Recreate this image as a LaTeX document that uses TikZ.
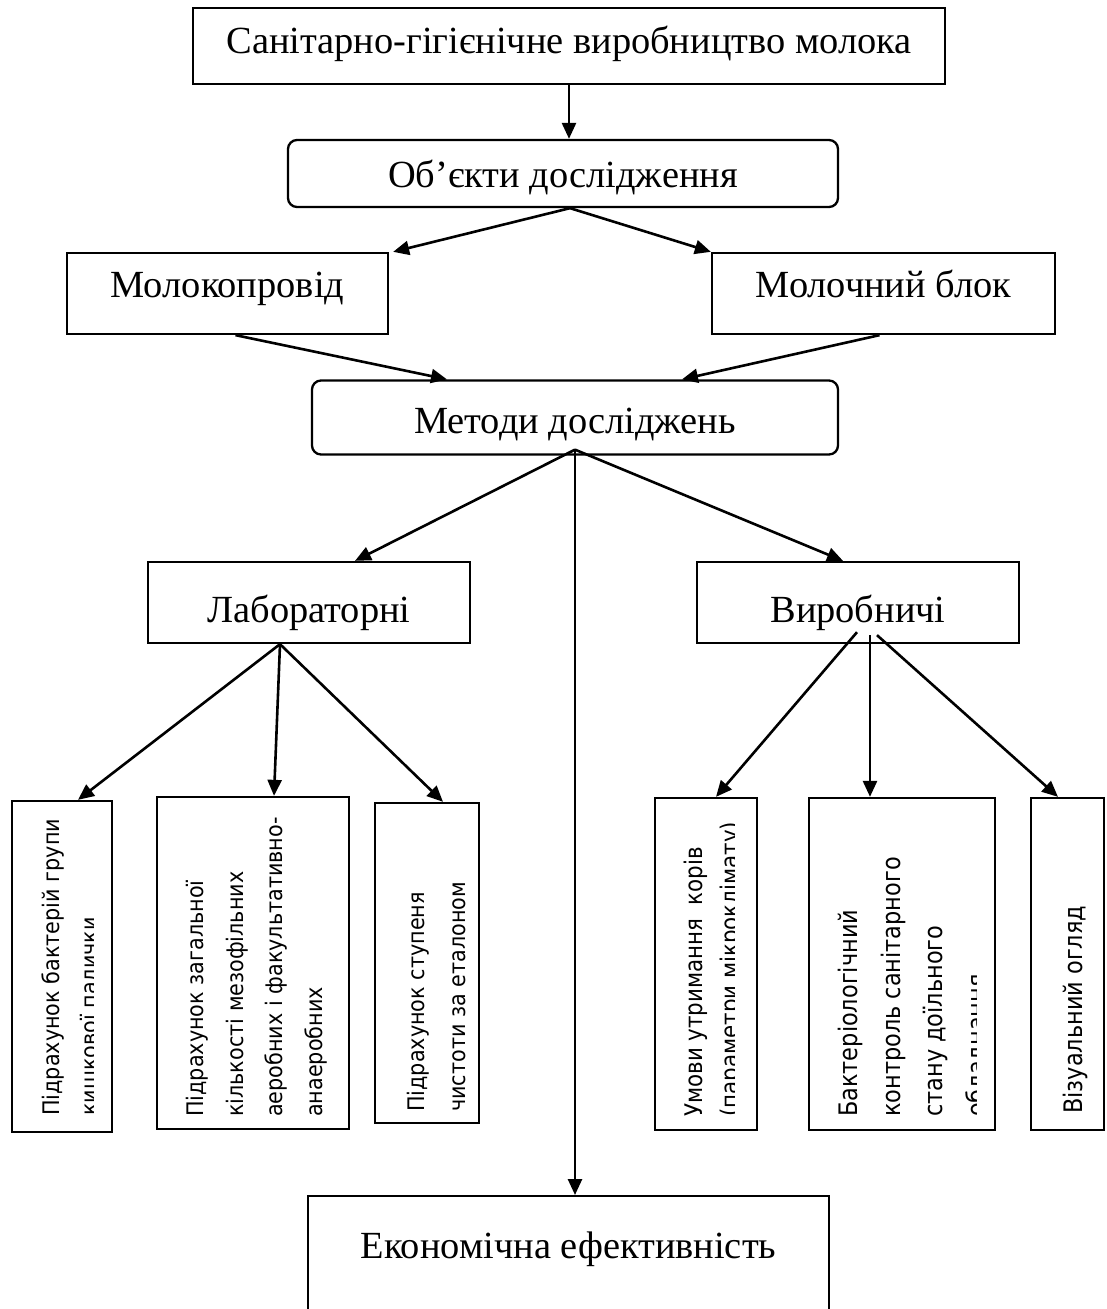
\documentclass[tikz,border=0pt]{standalone}
\usepackage{fontspec}
\setmainfont{Liberation Serif}
\newfontfamily\leftfont[FakeStretch=0.91]{DejaVu Sans}
\newfontfamily\rightfont[FakeStretch=0.88]{DejaVu Sans}
\usepackage{tikz}
\usetikzlibrary{shapes,arrows,arrows.meta}
\tikzstyle{block} = [rectangle, draw, line width=2.3pt, text centered,
    text height=27pt, text depth=8pt, font=\fontsize{38.4}{44}\selectfont]
\tikzstyle{roundblock} = [block, rounded corners=9pt]
\tikzstyle{tallblock} = [rectangle, draw, line width=2.3pt, inner sep=0pt]
\tikzstyle{vtext} = [rotate=90, anchor=north west, align=left, inner sep=0pt,
    font=\leftfont\fontsize{22.8}{40}\selectfont]
\tikzstyle{arrow} = [draw, -{Triangle[length=16pt,width=14pt]}, line width=2.6pt]

\begin{document}
\begin{tikzpicture}[x=1pt, y=-1pt, node distance=120pt]
	\useasboundingbox (0,0) rectangle (1106,1309);
	% Place nodes
	\node [block, minimum width=752pt, minimum height=76pt, text depth=13pt] at (569,46) (top) {Санітарно-гігієнічне виробництво молока};
	\node [roundblock, below of=top, node distance=127.5pt, xshift=-6pt, minimum width=550pt, minimum height=67pt, text height=36pt] (objects) {Об’єкти дослідження};
	\node [block, below of=objects, xshift=-335.5pt, minimum width=321pt, minimum height=81pt, text depth=20pt] (pipeline) {Молокопровід};
	\node [block, right of=pipeline, node distance=656pt, minimum width=343pt, minimum height=81pt, text depth=20pt] (milkblock) {Молочний блок};
	\node [roundblock, below of=objects, node distance=244pt, xshift=12pt, minimum width=526pt, minimum height=74pt, text height=40pt] (methods) {Методи досліджень};
	\node [block, below of=methods, node distance=185pt, xshift=-266pt, minimum width=322pt, minimum height=81pt, text height=47pt] (lab) {Лабораторні};
	\node [block, right of=lab, node distance=549pt, minimum width=322pt, minimum height=81pt, text height=47pt] (prod) {Виробничі};
	\node [block, anchor=north, minimum width=521pt, text height=28pt, text depth=60pt, inner ysep=34pt] at (568.5,1195) (econ) {Економічна ефективність};

	% Tall boxes with turned text
	\node [tallblock, minimum width=100pt, minimum height=331pt] at (62,966.5) (coli) {};
	\node [tallblock, minimum width=192pt, minimum height=332pt] at (253,963) (total) {};
	\node [tallblock, minimum width=104pt, minimum height=320pt] at (427,963) (purity) {};
	\node [tallblock, minimum width=102pt, minimum height=332pt] at (706,964) (housing) {};
	\node [tallblock, minimum width=186pt, minimum height=332pt] at (902,964) (bactcontrol) {};
	\node [tallblock, minimum width=73pt, minimum height=332pt] at (1067.5,964) (visual) {};

	\begin{scope}
		\clip (coli.north west) rectangle ([xshift=-20pt]coli.south east);
		\node [vtext, font=\leftfont\fontsize{22.8}{38}\selectfont] at (42,1116) (colitext) {Підрахунок бактерій групи\\кишкової палички};
	\end{scope}
	\node [vtext, font=\leftfont\fontsize{22.8}{39.5}\selectfont] at (186,1117) (totaltext) {Підрахунок загальної\\кількості мезофільних\\аеробних і факультативно-\\анаеробних};
	\node [vtext, font=\leftfont\fontsize{22.8}{41}\selectfont] at (407,1112) (puritytext) {Підрахунок ступеня\\чистоти за еталоном};
	\begin{scope}
		\clip (housing.north west) rectangle ([xshift=-24pt]housing.south east);
		\node [vtext, font=\rightfont\fontsize{24.3}{36}\selectfont] at (684,1117) (housingtext) {Умови утримання\ \ корів\\(параметри мікроклімату)};
	\end{scope}
	\begin{scope}
		\clip (bactcontrol.north west) rectangle ([xshift=-20pt]bactcontrol.south east);
		\node [vtext, font=\rightfont\fontsize{25.5}{42.5}\selectfont] at (838,1117) (bactcontroltext) {Бактеріологічний\\контроль санітарного\\стану доїльного\\обладнання};
	\end{scope}
	\node [vtext, font=\rightfont\fontsize{25.5}{40}\selectfont] at (1062.5,1114) (visualtext) {Візуальний огляд};

	% Connectors
	\path [arrow] (top.south) -- (top.south |- objects.north);
	\path [arrow] ([xshift=7pt]objects.south) -- ([xshift=4pt]pipeline.north east);
	\path [arrow] ([xshift=7pt]objects.south) -- (milkblock.north west);
	\path [arrow] ([xshift=8pt]pipeline.south) -- ([xshift=-128pt]methods.north);
	\path [arrow] ([xshift=-4pt]milkblock.south) -- ([xshift=107pt]methods.north);
	\path [arrow] ([yshift=6pt]methods.south) -- ([xshift=46pt]lab.north);
	\path [arrow] ([yshift=6pt]methods.south) -- ([xshift=-15pt]prod.north);
	\path [arrow] ([yshift=6pt]methods.south) -- (methods.south |- econ.north);
	\path [arrow] ([xshift=-29pt]lab.south) -- ([xshift=16pt]coli.north);
	\path [arrow] ([xshift=-29pt]lab.south) -- ([xshift=21pt]total.north);
	\path [arrow] ([xshift=-29pt]lab.south) -- ([xshift=16pt]purity.north);
	\path [arrow] ([xshift=-1pt,yshift=12pt]prod.south) -- ([xshift=10pt]housing.north);
	\path [arrow] ([xshift=12pt,yshift=9pt]prod.south) -- ([xshift=-32pt]bactcontrol.north);
	\path [arrow] ([xshift=19pt,yshift=9pt]prod.south) -- ([xshift=-9.5pt]visual.north);
\end{tikzpicture}
\end{document}
